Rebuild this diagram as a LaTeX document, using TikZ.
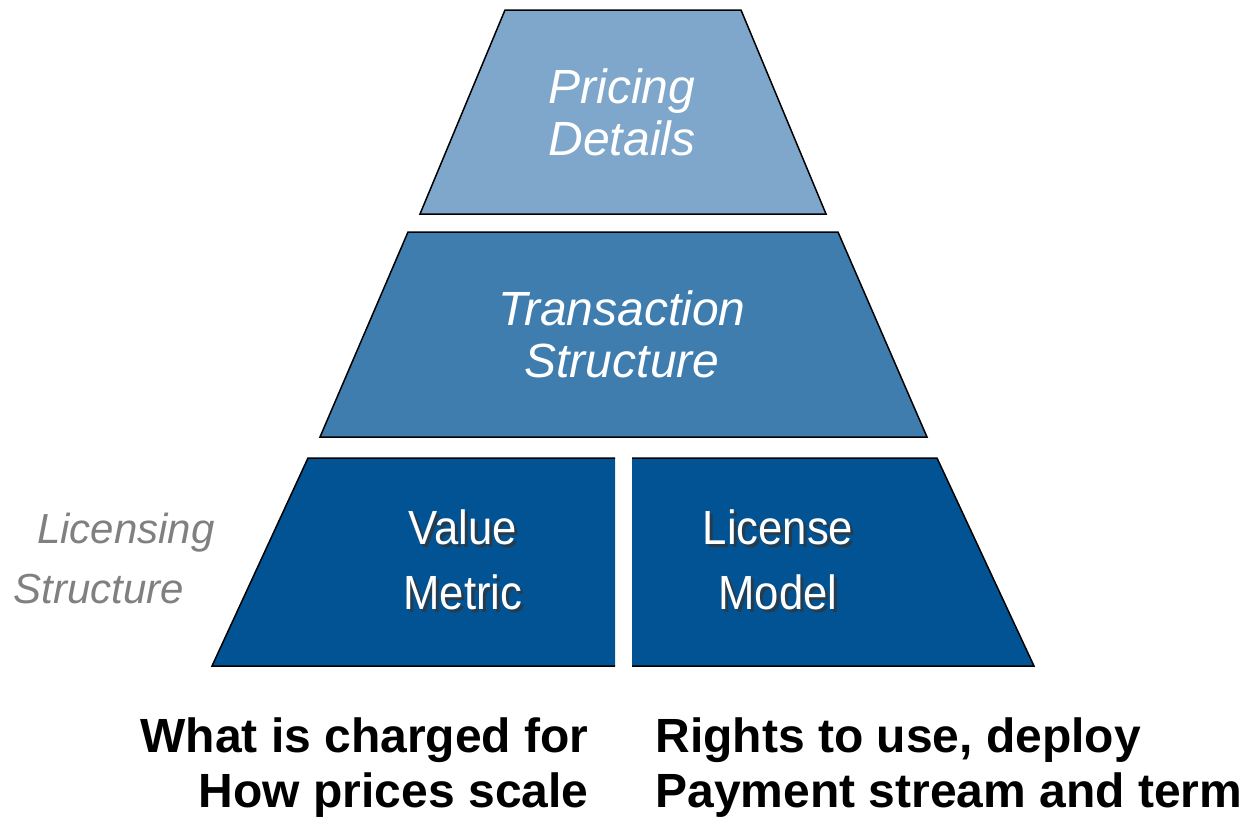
\documentclass[tikz,border=0pt]{standalone}
\usepackage{fontspec}
\setmainfont{Liberation Sans}
\usetikzlibrary{calc}

\definecolor{tierlight}{RGB}{127,167,203}
\definecolor{tiermid}{RGB}{63,125,175}
\definecolor{tierdark}{RGB}{2,83,147}
\definecolor{sidegray}{RGB}{128,128,128}

\newcommand{\narrow}[1]{\scalebox{0.91}[1]{#1}}

\tikzset{
    tier/.style={line width=1.5pt, draw=black},
    tiertext/.style={align=center, text=white, font=\fontsize{48}{52}\selectfont\itshape},
    basetext/.style={align=center, text=white, font=\fontsize{48}{65}\selectfont},
    baseshadow/.style={align=center, text=black!80, opacity=0.75, font=\fontsize{48}{65}\selectfont},
    sidetext/.style={text=sidegray, font=\fontsize{42}{56}\selectfont\itshape},
    note/.style={font=\fontsize{48}{55}\selectfont\bfseries}
}

\begin{document}
\begin{tikzpicture}[x=1pt, y=-1pt]
    \useasboundingbox (0,0) rectangle (1243,820);

    % Top tier
    \fill[tierlight] (505,10) -- (741,10) -- (826,214) -- (420,214) -- cycle;
    \draw[tier] (505,10) -- (741,10) -- (826,214) -- (420,214) -- cycle;
    \node[tiertext] (pricing) at (622,112) {Pricing\\Details};

    % Middle tier
    \fill[tiermid] (408,232) -- (838,232) -- (927,437) -- (320,437) -- cycle;
    \draw[tier] (408,232) -- (838,232) -- (927,437) -- (320,437) -- cycle;
    \node[tiertext] (transaction) at (622,334) {Transaction\\Structure};

    % Bottom tier, two halves
    \fill[tierdark] (308,458) -- (615,458) -- (615,666) -- (212,666) -- cycle;
    \fill[tierdark] (632,458) -- (937,458) -- (1034,666) -- (632,666) -- cycle;
    \draw[tier] (615,458) -- (308,458) -- (212,666) -- (615,666);
    \draw[tier] (632,458) -- (937,458) -- (1034,666) -- (632,666);

    % Labels in the bottom tier
    \node[baseshadow] (metricshadow) at (466,563) {\narrow{Value}\\\narrow{Metric}};
    \node[basetext] (metric) at (463,560) {\narrow{Value}\\\narrow{Metric}};
    \node[baseshadow] (modelshadow) at (781,563) {\narrow{License}\\\narrow{Model}};
    \node[basetext] (model) at (778,560) {\narrow{License}\\\narrow{Model}};

    % Side label
    \node[sidetext, anchor=east] (licensing) at (218,533) {Licensing};
    \node[sidetext, anchor=west] (structure) at (10,589) {Structure};

    % Notes below
    \node[note, anchor=east] (charged) at (592,740) {What is charged for};
    \node[note, anchor=east] (scale) at (592,795) {How prices scale};
    \node[note, anchor=west] (rights) at (652,740) {Rights to use, deploy};
    \node[note, anchor=west] (payment) at (652,795) {Payment stream and term};
\end{tikzpicture}
\end{document}
